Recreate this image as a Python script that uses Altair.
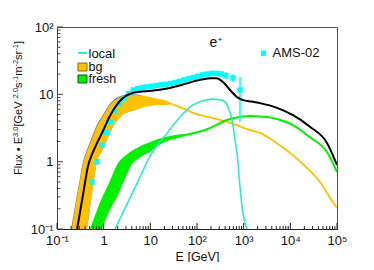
import json
import altair as alt
import pandas as pd

FONT = "Liberation Sans"
W, H = 280, 202

# ---------------- data ----------------
# total (black line)
tot_E = [0.27, 0.32, 0.38, 0.46, 0.58, 0.75, 1.0, 1.3, 1.7, 2.2, 3.0, 4.0, 6.0, 10, 20, 50, 100,
         190, 260, 360, 510, 720, 970, 1500, 2240, 5180, 11400, 26300, 61000, 100000]
tot_F = [0.1, 0.2, 0.4, 0.85, 1.35, 2.0, 3.0, 4.5, 6.2, 7.9, 9.5, 10.4, 10.9, 11.3, 12.0, 14.0, 16.0,
         17.4, 17.3, 15.3, 11.6, 9.1, 8.2, 7.8, 7.4, 6.3, 4.9, 3.3, 1.9, 0.89]

# total uncertainty band (grey)
grey_E = [0.2, 0.25, 0.3, 0.36, 0.44, 0.55, 0.72, 0.9, 1.1, 1.37, 1.58, 2.0, 2.47, 3.3, 4.7, 6.5]
grey_hi = [0.1, 0.25, 0.5, 1.0, 1.52, 2.25, 3.55, 4.6, 5.8, 7.3, 8.1, 9.1, 9.6, 10.0, 10.0, 9.7]
grey_lo = [0.02, 0.03, 0.045, 0.065, 0.1, 0.3, 1.0, 1.4, 1.9, 2.66, 3.3, 4.2, 4.9, 5.4, 5.85, 6.3]

# background (orange band + line)
bg_E = [0.21, 0.25, 0.3, 0.36, 0.44, 0.55, 0.72, 0.9, 1.1, 1.37, 1.58, 2.0, 2.47, 3.3, 4.7, 6.5,
        9.8, 14, 20.6, 30]
bg_hi = [0.1, 0.22, 0.45, 0.9, 1.41, 2.07, 3.3, 4.3, 5.4, 6.95, 7.7, 8.6, 9.1, 9.6, 9.8, 9.6,
         9.1, 8.6, 8.2, 7.3]
bg_lo = [0.02, 0.03, 0.045, 0.065, 0.1, 0.3, 1.0, 1.4, 1.9, 2.66, 3.3, 4.2, 4.9, 5.4, 5.85, 6.3,
         6.7, 6.9, 6.95, 7.0]
bgl_E = [30, 50, 82, 200, 440, 1365, 2240, 4690, 9840, 20600, 43200, 70700, 100000]
bgl_F = [7.1, 6.2, 5.3, 4.5, 3.9, 2.95, 2.67, 1.96, 1.35, 0.86, 0.50, 0.29, 0.205]

# fresh (green band + line)
fr_E = [0.51, 0.7, 0.92, 1.3, 2.03, 3.0, 4.2, 5.2, 7, 9.8, 14, 20.6, 30, 50]
fr_hi = [0.1, 0.18, 0.29, 0.48, 0.955, 1.25, 1.48, 1.6, 1.78, 1.95, 2.15, 2.32, 2.45, 2.57]
fr_lo = [0.03, 0.055, 0.1, 0.18, 0.32, 0.6, 0.955, 1.08, 1.24, 1.39, 1.68, 1.96, 2.15, 2.32]
frl_E = [20.6, 50, 148, 509, 1365, 2240, 3660, 5180, 11400, 26300, 61000, 100000]
frl_F = [2.14, 2.45, 2.95, 4.3, 4.75, 4.7, 4.55, 4.3, 3.5, 2.3, 1.39, 0.70]

# local source (turquoise line)
loc_E = [1.75, 2.5, 3.66, 6.0, 10, 16, 25, 43, 82, 150, 220, 344, 462, 562, 652, 720, 834, 968, 1178]
loc_F = [0.1, 0.167, 0.29, 0.59, 1.23, 1.96, 2.86, 4.6, 6.95, 8.2, 8.5, 8.2, 6.5, 4.2, 2.1, 1.35,
         0.42, 0.17, 0.1]

# AMS-02 data
ams_E = [0.56, 0.72, 0.92, 1.15, 1.4, 1.75, 2.2, 2.75, 3.4, 4.3, 5.4, 6.8, 8.5, 10.7, 13.5, 17, 21,
         27, 34, 42, 53, 67, 84, 105, 132, 166, 208, 262, 330, 415, 590, 834]
ams_F = [0.5, 1.0, 1.75, 2.7, 3.9, 5.6, 7.3, 8.8, 10.2, 11.6, 12.2, 12.6, 12.9, 13.2, 13.5, 13.8,
         14.1, 14.5, 15.0, 15.6, 16.3, 17.0, 17.8, 18.6, 19.4, 20.0, 20.5, 20.4, 20.0, 19.0, 17.5, 11.6]
err_E = [208, 262, 330, 415, 590, 834]
err_lo = [19.2, 18.9, 18.2, 16.8, 15.2, 3.9]
err_hi = [21.8, 21.9, 21.8, 21.2, 19.8, 18.1]

# axes
x_major = [0.1, 1, 10, 100, 1000, 10000, 100000]
x_labels = ["10⁻¹", "1", "10", "10²", "10³", "10⁴", "10⁵"]
y_major = [0.1, 1, 10, 100]
y_labels = ["10⁻¹", "1", "10", "10²"]
x_minor = [m * 10 ** k for k in range(-1, 5) for m in range(2, 10)]
y_minor = [m * 10 ** k for k in range(-1, 2) for m in range(2, 10)]

# y title pieces: (text, is_superscript)
ytitle_parts = [("Flux • E", False), ("3.0", True), (" [GeV", False), ("2.0", True), ("s", False),
                ("-1", True), ("m", False), ("-2", True), ("sr", False), ("-1", True), ("]", False)]

# ---------------- chart ----------------
xs = alt.Scale(type="log", domain=[0.1, 100000])
ys = alt.Scale(type="log", domain=[0.1, 100])

C_BG = "#ffc000"
C_FR = "#00f000"
C_LOC = "#33e8cc"
C_AMS = "#00ffff"

x_axis = alt.Axis(
    values=x_major,
    labelExpr=json.dumps(x_labels, ensure_ascii=False) + "[round(log(datum.value)/LN10)+1]",
    ticks=False, grid=False, domainColor="#222", labelFont=FONT, labelFontSize=13,
    labelColor="#111", labelPadding=5, labelFlush=False, labelOverlap=False,
    title="E [GeV]", titleFont=FONT, titleFontSize=12.5, titleFontWeight="normal",
    titleColor="#111", titleX=W / 2, titleY=27, titleBaseline="middle", titleAlign="center",
)
y_axis = alt.Axis(
    values=y_major,
    labelExpr=json.dumps(y_labels, ensure_ascii=False) + "[round(log(datum.value)/LN10)+1]",
    ticks=False, grid=False, domainColor="#444", labelFont=FONT, labelFontSize=13,
    labelColor="#111", labelPadding=4, labelFlush=False, labelOverlap=False,
    title=None,
)


def X(axis=None):
    if axis is None:
        return alt.X("E:Q", scale=xs)
    return alt.X("E:Q", scale=xs, axis=axis)


def Yf(field, axis=None):
    if axis is None:
        return alt.Y(f"{field}:Q", scale=ys)
    return alt.Y(f"{field}:Q", scale=ys, axis=axis)


grey = alt.Chart(pd.DataFrame({"E": grey_E, "lo": grey_lo, "hi": grey_hi})).mark_area(
    color="#8a8a8a", clip=True, interpolate="monotone", orient="vertical"
).encode(x=X(x_axis), y=Yf("lo", y_axis), y2="hi:Q")

bg_band = alt.Chart(pd.DataFrame({"E": bg_E, "lo": bg_lo, "hi": bg_hi})).mark_area(
    color=C_BG, clip=True, interpolate="monotone", orient="vertical"
).encode(x=X(), y=Yf("lo"), y2="hi:Q")

fr_band = alt.Chart(pd.DataFrame({"E": fr_E, "lo": fr_lo, "hi": fr_hi})).mark_area(
    color=C_FR, clip=True, interpolate="monotone", orient="vertical"
).encode(x=X(), y=Yf("lo"), y2="hi:Q")

bg_line = alt.Chart(pd.DataFrame({"E": bgl_E, "F": bgl_F})).mark_line(
    color=C_BG, strokeWidth=1.8, clip=True, interpolate="monotone"
).encode(x=X(), y=Yf("F"))

fr_line = alt.Chart(pd.DataFrame({"E": frl_E, "F": frl_F})).mark_line(
    color=C_FR, strokeWidth=2, clip=True, interpolate="monotone"
).encode(x=X(), y=Yf("F"))

loc_line = alt.Chart(pd.DataFrame({"E": loc_E, "F": loc_F})).mark_line(
    color=C_LOC, strokeWidth=1.6, clip=True, interpolate="monotone"
).encode(x=X(), y=Yf("F"))

ams_err = alt.Chart(pd.DataFrame({"E": err_E, "lo": err_lo, "hi": err_hi})).mark_rule(
    color=C_AMS, strokeWidth=1.5, clip=True
).encode(x=X(), y=Yf("lo"), y2="hi:Q")

ams_pts = alt.Chart(pd.DataFrame({"E": ams_E, "F": ams_F})).mark_point(
    shape="square", filled=True, color=C_AMS, opacity=1, size=30, clip=True
).encode(x=X(), y=Yf("F"))

tot_line = alt.Chart(pd.DataFrame({"E": tot_E, "F": tot_F})).mark_line(
    color="#000000", strokeWidth=2, clip=True, interpolate="monotone"
).encode(x=X(), y=Yf("F"))

# inside ticks
xt_maj = alt.Chart(pd.DataFrame({"E": x_major})).mark_rule(color="#222").encode(
    x=X(), y=alt.value(H), y2=alt.value(H - 6))
xt_min = alt.Chart(pd.DataFrame({"E": x_minor})).mark_rule(color="#222").encode(
    x=X(), y=alt.value(H), y2=alt.value(H - 3))
yt_maj = alt.Chart(pd.DataFrame({"F": y_major})).mark_rule(color="#444").encode(
    y=Yf("F"), x=alt.value(0), x2=alt.value(6))
yt_min = alt.Chart(pd.DataFrame({"F": y_minor})).mark_rule(color="#444").encode(
    y=Yf("F"), x=alt.value(0), x2=alt.value(3.5))

# legend and labels
one = pd.DataFrame({"k": [0]})
leg_local_line = alt.Chart(one).mark_rule(color=C_LOC, strokeWidth=2).encode(
    x=alt.value(21), x2=alt.value(30), y=alt.value(26))
leg_bg_box = alt.Chart(one).mark_rect(fill=C_BG, stroke="#8a6a00", strokeWidth=1).encode(
    x=alt.value(21), x2=alt.value(30), y=alt.value(36), y2=alt.value(44))
leg_fr_box = alt.Chart(one).mark_rect(fill=C_FR, stroke="#0a600a", strokeWidth=1).encode(
    x=alt.value(21), x2=alt.value(30), y=alt.value(48), y2=alt.value(56))
leg_ams_pt = alt.Chart(one).mark_point(shape="square", filled=True, color=C_AMS, opacity=1,
                                       size=28).encode(x=alt.value(206.5), y=alt.value(26.3))


def label(txt, x, y, size=13, align="left", angle=0):
    return alt.Chart(pd.DataFrame({"t": [txt]})).mark_text(
        font=FONT, fontSize=size, align=align, baseline="alphabetic", color="#111", angle=angle
    ).encode(x=alt.value(x), y=alt.value(y), text="t:N")


# Arial/Liberation advance widths (per 1000 em) to lay out the rotated y title
ADV = {"F": 611, "l": 222, "u": 556, "x": 500, " ": 278, "•": 350, "E": 667, "[": 278,
       "G": 778, "e": 556, "V": 667, "s": 500, "m": 833, "r": 333, "]": 278, ".": 278,
       "-": 333}
NORM, SUP = 11, 7.5
ytitle = []
pos = 148.0
for txt, sup in ytitle_parts:
    size = SUP if sup else NORM
    ytitle.append(label(txt, -39.5 if sup else -35, pos, size=size, angle=270))
    pos -= sum(ADV.get(ch, 556) for ch in txt) / 1000 * size

texts = [
    label("local", 31.5, 31),
    label("bg", 31.5, 43.5, size=12.5),
    label("fresh", 31.5, 55.5, size=12.5),
    label("AMS-02", 215.5, 30),
    label("e", 156.5, 20, size=14, align="center"),
    label("+", 163, 15, size=8, align="center"),
]

chart = alt.layer(
    grey, bg_band, fr_band, bg_line, fr_line, loc_line, ams_err, ams_pts, tot_line,
    xt_maj, xt_min, yt_maj, yt_min,
    leg_local_line, leg_bg_box, leg_fr_box, leg_ams_pt, *texts, *ytitle,
).properties(
    width=W, height=H,
    autosize=alt.AutoSizeParams(type="none"),
    padding={"left": 49, "top": 19, "right": 29, "bottom": 33},
    background="white",
).configure_view(stroke="#555", strokeWidth=1)

chart.save("out.html", embed_options={"renderer": "svg", "actions": False})
